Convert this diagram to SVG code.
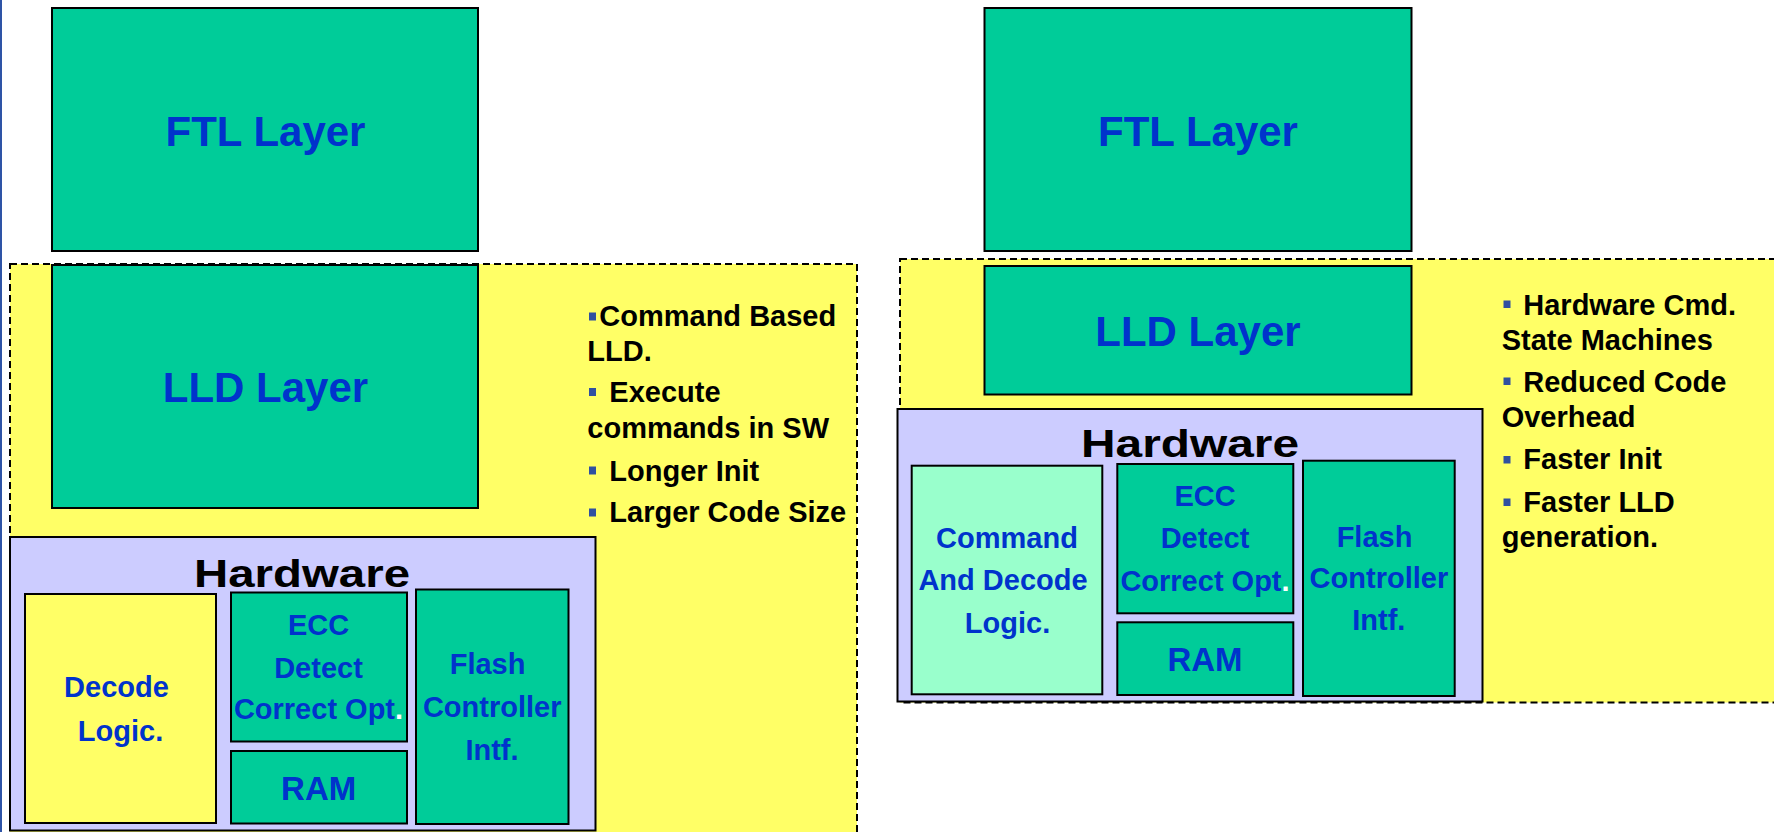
<svg xmlns="http://www.w3.org/2000/svg" width="1774" height="832" viewBox="0 0 1774 832">
<style>
.grn{fill:#00CC99;stroke:#000;stroke-width:2}
.yel{fill:#FFFF66;stroke:#000;stroke-width:2}
.lgr{fill:#99FFCC;stroke:#000;stroke-width:2}
.hw{fill:#CCCCFF;stroke:#000;stroke-width:2}
.dash{fill:#FFFF66;stroke:#000;stroke-width:2;stroke-dasharray:7 4}
text{font-family:"Liberation Sans",Arial,sans-serif;font-weight:bold}
.lbl{fill:#0033CC;font-size:29px;text-anchor:middle}
.big{font-size:42px}
.ram{font-size:33px}
.lst{fill:#000;font-size:29px}
.hwt{fill:#000;font-size:38px}
.bul{fill:#3050A0}
</style>
<rect x="0" y="0" width="1774" height="832" fill="#FFFFFF"/>
<rect x="0" y="0" width="2" height="832" fill="#2E54A6"/>

<!-- Left panel -->
<g id="left-region">
  <rect class="dash" x="10" y="264" width="847" height="580"/>
</g>
<g id="left-ftl">
  <rect class="grn" x="52" y="8" width="426" height="243"/>
  <text class="lbl big" x="265.5" y="145.5">FTL Layer</text>
</g>
<g id="left-lld">
  <rect class="grn" x="52" y="265" width="426" height="243"/>
  <text class="lbl big" x="265.5" y="402">LLD Layer</text>
</g>
<g id="left-hardware">
  <rect class="hw" x="10" y="537" width="585.5" height="293.5"/>
  <text class="hwt" x="194" y="586.5" textLength="216" lengthAdjust="spacingAndGlyphs">Hardware</text>
</g>
<g id="left-decode">
  <rect class="yel" x="25" y="594" width="191" height="229"/>
  <text class="lbl" x="116.5" y="697">Decode</text>
  <text class="lbl" x="120.5" y="740.5">Logic.</text>
</g>
<g id="left-ecc">
  <rect class="grn" x="231" y="592.5" width="176" height="149"/>
  <text class="lbl" x="318.5" y="635">ECC</text>
  <text class="lbl" x="318.5" y="677.5">Detect</text>
  <text class="lbl" x="318.5" y="719.3">Correct Opt<tspan fill="#FFFFFF">.</tspan></text>
</g>
<g id="left-ram">
  <rect class="grn" x="231" y="751" width="176" height="72.5"/>
  <text class="lbl ram" x="318.7" y="799.5">RAM</text>
</g>
<g id="left-flash">
  <rect class="grn" x="416" y="589.5" width="152.5" height="234.5"/>
  <text class="lbl" x="487.6" y="674">Flash</text>
  <text class="lbl" x="492.2" y="717.3">Controller</text>
  <text class="lbl" x="492" y="760">Intf.</text>
</g>
<g id="left-notes">
  <rect class="bul" x="589" y="312.5" width="7" height="8"/>
  <text class="lst" x="599.3" y="326">Command Based</text>
  <text class="lst" x="587.3" y="360.7">LLD.</text>
  <rect class="bul" x="589" y="388" width="7" height="8"/>
  <text class="lst" x="609.3" y="402.3">Execute</text>
  <text class="lst" x="587.3" y="438.3">commands in SW</text>
  <rect class="bul" x="589" y="466.5" width="7" height="8"/>
  <text class="lst" x="609.3" y="481">Longer Init</text>
  <rect class="bul" x="589" y="508.5" width="7" height="8"/>
  <text class="lst" x="609.3" y="521.7">Larger Code Size</text>
</g>

<!-- Right panel -->
<g id="right-region">
  <rect class="dash" x="900" y="259" width="900" height="443.5"/>
</g>
<g id="right-ftl">
  <rect class="grn" x="984.5" y="8" width="427" height="243"/>
  <text class="lbl big" x="1198" y="145.5">FTL Layer</text>
</g>
<g id="right-lld">
  <rect class="grn" x="984.5" y="266" width="427" height="128.5"/>
  <text class="lbl big" x="1198" y="345.5">LLD Layer</text>
</g>
<g id="right-hardware">
  <rect class="hw" x="897.5" y="409" width="585" height="292.5"/>
  <text class="hwt" x="1081" y="457" textLength="218" lengthAdjust="spacingAndGlyphs">Hardware</text>
</g>
<g id="right-command">
  <rect class="lgr" x="911.7" y="465.7" width="190.6" height="228.6"/>
  <text class="lbl" x="1007" y="547.8">Command</text>
  <text class="lbl" x="1003" y="590">And Decode</text>
  <text class="lbl" x="1007.5" y="632.7">Logic.</text>
</g>
<g id="right-ecc">
  <rect class="grn" x="1117.3" y="464" width="176" height="149.3"/>
  <text class="lbl" x="1205" y="506">ECC</text>
  <text class="lbl" x="1205" y="548.3">Detect</text>
  <text class="lbl" x="1205" y="590.7">Correct Opt<tspan fill="#FFFFFF">.</tspan></text>
</g>
<g id="right-ram">
  <rect class="grn" x="1117.3" y="622.3" width="176" height="72.7"/>
  <text class="lbl ram" x="1205" y="670.7">RAM</text>
</g>
<g id="right-flash">
  <rect class="grn" x="1303" y="460.7" width="151.7" height="235.3"/>
  <text class="lbl" x="1374.5" y="546.7">Flash</text>
  <text class="lbl" x="1378.9" y="588.3">Controller</text>
  <text class="lbl" x="1378.8" y="630">Intf.</text>
</g>
<g id="right-notes">
  <rect class="bul" x="1503.5" y="300.5" width="7" height="7.5"/>
  <text class="lst" x="1523.3" y="315">Hardware Cmd.</text>
  <text class="lst" x="1501.7" y="350">State Machines</text>
  <rect class="bul" x="1503.5" y="377.5" width="7" height="7.5"/>
  <text class="lst" x="1523.3" y="391.7">Reduced Code</text>
  <text class="lst" x="1501.7" y="427.3">Overhead</text>
  <rect class="bul" x="1503.5" y="456" width="7" height="7.5"/>
  <text class="lst" x="1523.3" y="469.3">Faster Init</text>
  <rect class="bul" x="1503.5" y="498.5" width="7" height="7.5"/>
  <text class="lst" x="1523.3" y="512.3">Faster LLD</text>
  <text class="lst" x="1501.7" y="547.3">generation.</text>
</g>
<g id="connectors"></g>
</svg>
